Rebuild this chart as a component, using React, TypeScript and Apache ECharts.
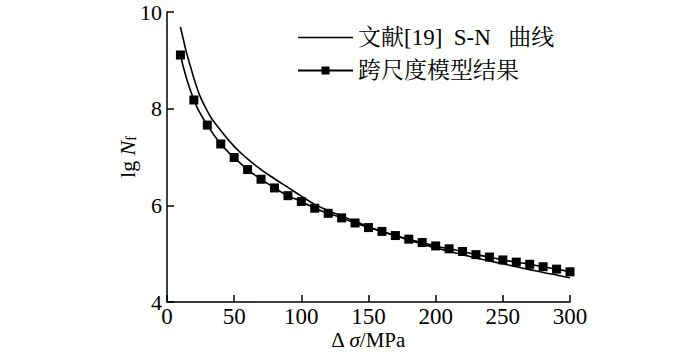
import React, { useEffect, useRef } from "react";
import * as echarts from "echarts";

const xValues = [10, 20, 30, 40, 50, 60, 70, 80, 90, 100, 110, 120, 130, 140, 150, 160, 170, 180, 190, 200, 210, 220, 230, 240, 250, 260, 270, 280, 290, 300];
const snCurve = [9.69, 8.63, 7.95, 7.55, 7.22, 6.96, 6.74, 6.55, 6.37, 6.19, 6.02, 5.89, 5.78, 5.67, 5.56, 5.46, 5.37, 5.28, 5.2, 5.12, 5.05, 4.98, 4.91, 4.85, 4.79, 4.73, 4.67, 4.61, 4.56, 4.5];
const modelResult = [9.11, 8.18, 7.66, 7.27, 6.99, 6.74, 6.54, 6.36, 6.2, 6.08, 5.94, 5.835, 5.74, 5.635, 5.54, 5.46, 5.375, 5.3, 5.23, 5.16, 5.1, 5.045, 4.98, 4.93, 4.87, 4.825, 4.78, 4.73, 4.68, 4.625];
const seriesNames = ["文献[19] S-N 曲线", "跨尺度模型结果"];
const xAxisName = "Δ {i|σ}/MPa";
const yAxisName = "lg {i|N}{s|f}";

const FONT = "'Liberation Serif', 'Times New Roman', 'Noto Serif CJK SC', 'Noto Sans CJK SC', serif";

export default function App() {
  const ref = useRef<HTMLDivElement>(null);
  useEffect(() => {
    if (!ref.current) return;
    const chart = echarts.init(ref.current, null, { renderer: "svg" });
    chart.setOption({
      animation: false,
      backgroundColor: "#ffffff",
      textStyle: { fontFamily: FONT, color: "#000" },
      grid: { left: 167, right: 130, top: 12, bottom: 52, containLabel: false, outerBoundsMode: "none" },
      legend: {
        orient: "vertical",
        left: 297,
        top: 26,
        padding: 0,
        itemWidth: 55,
        itemHeight: 10,
        itemGap: 10,
        textStyle: { fontFamily: FONT, fontSize: 23, color: "#000" },
        formatter: (name: string) => name.replace("] ", "]\u2002").replace(" 曲", "\u2002 曲"),
        data: [
          { name: seriesNames[0], icon: "path://M0,0 L55,0 L55,1.6 L0,1.6 Z", itemStyle: { color: "#000" } },
          { name: seriesNames[1] },
        ],
      },
      graphic: [
        {
          type: "text",
          x: 368,
          y: 340,
          style: {
            text: xAxisName,
            fontFamily: FONT,
            fontSize: 21,
            fill: "#000",
            align: "center",
            verticalAlign: "middle",
            rich: { i: { fontFamily: FONT, fontStyle: "italic", fontSize: 21, fill: "#000" } },
          },
        },
        {
          type: "text",
          x: 127,
          y: 157,
          rotation: Math.PI / 2,
          style: {
            text: yAxisName,
            fontFamily: FONT,
            fontSize: 22,
            fill: "#000",
            align: "center",
            verticalAlign: "middle",
            rich: {
              i: { fontFamily: FONT, fontStyle: "italic", fontSize: 22, fill: "#000" },
              s: { fontFamily: FONT, fontSize: 14, fill: "#000", verticalAlign: "bottom", padding: [8, 0, 0, 0] },
            },
          },
        },
      ],
      xAxis: {
        type: "value",
        min: 0,
        max: 300,
        interval: 50,
        axisLine: { show: true, lineStyle: { color: "#000", width: 1.5 } },
        axisTick: { show: true, inside: true, length: 7, lineStyle: { color: "#000", width: 1.5 } },
        axisLabel: { fontFamily: FONT, fontSize: 23, color: "#000", margin: 3 },
        splitLine: { show: false },
      },
      yAxis: {
        type: "value",
        min: 4,
        max: 10,
        interval: 2,
        axisLine: { show: true, lineStyle: { color: "#000", width: 1.5 } },
        axisTick: { show: true, inside: true, length: 7, lineStyle: { color: "#000", width: 1.5 } },
        axisLabel: { fontFamily: FONT, fontSize: 22, color: "#000", margin: 5 },
        splitLine: { show: false },
      },
      series: [
        {
          name: seriesNames[0],
          type: "line",
          smooth: true,
          showSymbol: false,
          symbol: "none",
          lineStyle: { color: "#000", width: 1.6 },
          itemStyle: { color: "#000" },
          data: xValues.map((x, i) => [x, snCurve[i]]),
        },
        {
          name: seriesNames[1],
          type: "line",
          smooth: true,
          symbol: "rect",
          symbolSize: 9,
          lineStyle: { color: "#000", width: 1.6 },
          itemStyle: { color: "#000" },
          data: xValues.map((x, i) => [x, modelResult[i]]),
        },
      ],
    });
    return () => chart.dispose();
  }, []);
  return <div ref={ref} style={{ width: 700, height: 354, position: "absolute", left: 0, top: 0 }} />;
}
